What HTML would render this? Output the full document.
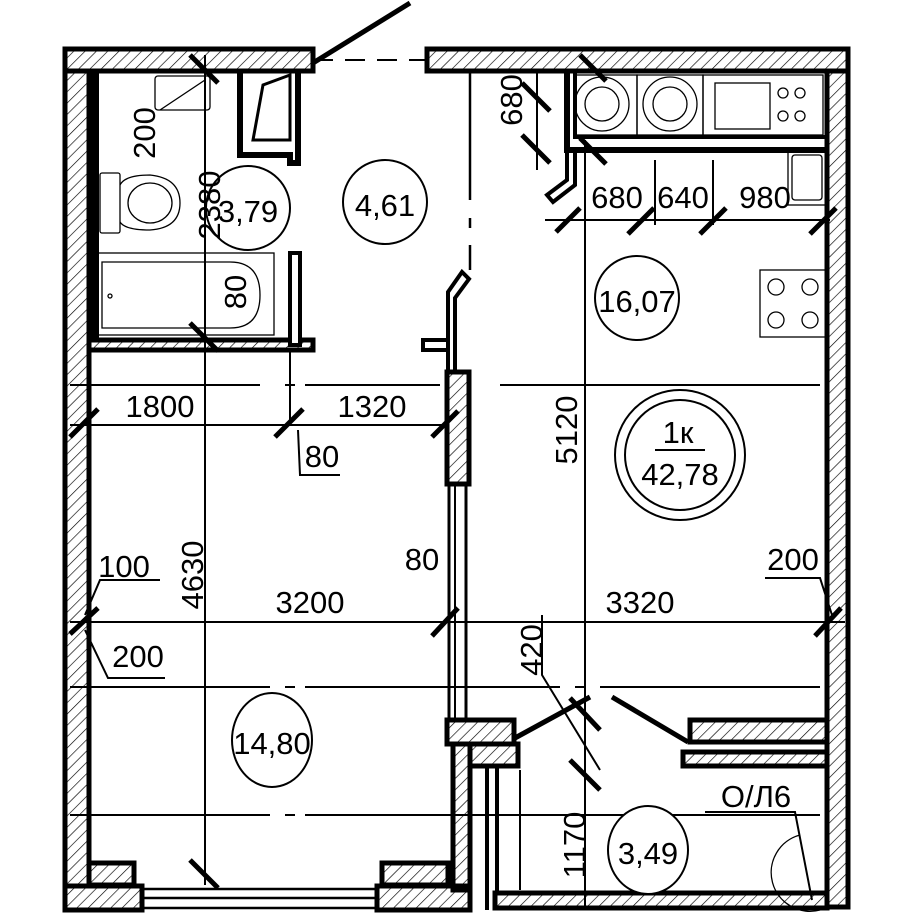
<!DOCTYPE html>
<html><head><meta charset="utf-8"><style>
html,body{margin:0;padding:0;background:#fff;}
svg{display:block}
text{font-family:"Liberation Sans Narrow","Liberation Sans",sans-serif;font-size:31px;fill:#000;text-anchor:middle}
</style></head><body>
<svg width="915" height="915" viewBox="0 0 915 915" xmlns="http://www.w3.org/2000/svg">
<defs>
<pattern id="h" width="8" height="8" patternUnits="userSpaceOnUse" patternTransform="rotate(45)">
<line x1="0" y1="0" x2="0" y2="8" stroke="#000" stroke-width="1.3"/>
</pattern>
</defs>
<g stroke="#000" stroke-width="5" fill="url(#h)">
<!-- top walls -->
<rect x="65" y="49" width="248" height="22"/>
<rect x="427" y="49" width="421" height="22"/>
<!-- left wall -->
<rect x="65" y="71" width="24" height="815"/>
<!-- right wall -->
<rect x="827" y="71" width="21" height="836"/>
<!-- bathroom bottom wall -->
<rect x="89" y="340" width="224" height="10"/>
<!-- living/kitchen partition -->
<rect x="447" y="372" width="22" height="112"/>
<!-- hallway walls -->
<rect x="447" y="720" width="67" height="24"/>
<rect x="690" y="720" width="137" height="22"/>
<rect x="683" y="752" width="144" height="14"/>
<rect x="470" y="744" width="48" height="22"/>
<rect x="453" y="744" width="17" height="146"/>
<!-- living bottom -->
<rect x="89" y="863" width="45" height="22"/>
<rect x="382" y="863" width="66" height="22"/>
<rect x="65" y="886" width="77" height="24"/>
<rect x="377" y="886" width="93" height="24"/>
<rect x="495" y="893" width="332" height="15"/>
</g>
<g stroke="#000" fill="none">
<rect x="92" y="71" width="6" height="270" fill="#000" stroke-width="2"/>
<!-- hallway inner wall -->
<path d="M487 768 V910 M497 768 V895" stroke-width="4"/>
<!-- window lines -->
<path d="M142 889 H377 M142 898 H377 M142 908 H377" stroke-width="2.5"/>
<!-- closet -->
<path d="M240 71 V155 H290 V163 H298 V71" stroke-width="6"/>
<path d="M253 140 L263 85 L290 75 V140 Z" stroke-width="3"/>
<!-- bathroom partition -->
<path d="M292 255 V345 M299 255 V345" stroke-width="4"/>
<rect x="290" y="253" width="10" height="92" stroke-width="4" fill="#fff"/>
<!-- partition upper angled -->
<path d="M448 370 V292 L462 272 L469 279 L455 298 V370" stroke-width="4"/>
<path d="M423 340 H448 V350 H423 Z" stroke-width="4"/>
<path d="M449 486 V720 M466 486 V720" stroke-width="3"/>
<path d="M455 486 V720" stroke-width="2"/>
<!-- kitchen niche -->
<path d="M567 71 V150 H827" stroke-width="6"/>
<path d="M575 71 V137 H827" stroke-width="4"/>
<path d="M567 150 V180 L547 195 L553 202 L575 185 V150" stroke-width="4"/>
<!-- door leafs -->
<path d="M313 63 L410 3" stroke-width="5"/>
<path d="M313 60 H425" stroke-width="2" stroke-dasharray="20 12"/>
<path d="M515 738 L590 697" stroke-width="5"/>
<path d="M612 697 L688 742" stroke-width="5"/>
</g>
<!-- fixtures thin -->
<g stroke="#000" fill="none" stroke-width="1.3">
<rect x="155" y="76" width="55" height="34" rx="3"/>
<path d="M160 110 L205 80"/>
<rect x="100" y="173" width="20" height="60" rx="2"/>
<path d="M120 185 Q125 175 150 175 Q180 178 180 203 Q180 228 150 230 Q125 230 120 222"/>
<ellipse cx="150" cy="203" rx="22" ry="20"/>
<rect x="98" y="253" width="176" height="82"/>
<path d="M102 262 H230 Q260 262 260 295 Q260 328 230 328 H102 Z"/>
<circle cx="110" cy="296" r="2"/>
<rect x="575" y="75" width="62" height="60"/><rect x="637" y="75" width="66" height="60"/><rect x="703" y="75" width="120" height="60"/>
<circle cx="602" cy="104" r="27"/><circle cx="602" cy="104" r="17"/>
<circle cx="670" cy="104" r="27"/><circle cx="670" cy="104" r="17"/>
<rect x="715" y="83" width="55" height="46"/>
<circle cx="783" cy="93" r="5"/><circle cx="800" cy="93" r="5"/><circle cx="783" cy="116" r="5"/><circle cx="800" cy="116" r="5"/>
<rect x="788" y="150" width="38" height="55"/><rect x="792" y="155" width="30" height="45" rx="3"/>
<rect x="760" y="270" width="66" height="67"/>
<circle cx="776" cy="287" r="8"/><circle cx="810" cy="287" r="8"/><circle cx="776" cy="320" r="8"/><circle cx="810" cy="320" r="8"/>
<path d="M800 835 A35 35 0 0 0 820 910" />
</g>
<!-- dimension lines -->
<g stroke="#000" fill="none" stroke-width="2">
<path d="M70 385 H260 M285 385 H295 M305 385 H440 M500 385 H820" />
<path d="M70 425 H445"/>
<path d="M70 622 H845"/>
<path d="M70 687 H270 M285 687 H295 M305 687 H560 M575 687 H585 M600 687 H820"/>
<path d="M70 815 H270 M285 815 H295 M305 815 H820"/>
<path d="M545 220 H830"/>
<path d="M205 55 V885"/>
<path d="M470 71 V200 M470 218 V228 M470 245 V270" stroke-width="2.5"/>
<path d="M585 140 V910"/>
<path d="M537 71 V170"/>
<path d="M290 350 V425 M298 430 L300 475 H340"/>
<path d="M655 160 V225 M713 160 V225"/>
<path d="M160 580 H100 L85 615 M85 630 L108 678 H165"/>
<path d="M765 578 H820 L832 615"/>
<path d="M542 615 V675 L600 770"/>
<path d="M705 812 H795 L812 900"/>
<path d="M520 770 V890"/>
</g>
<!-- ticks -->
<g stroke="#000" stroke-width="5">
<path d="M190 55 L218 83 M190 323 L218 351 M190 860 L218 888"/>
<path d="M522 83 L550 111 M522 135 L550 163 M580 55 L606 81 M580 138 L606 164"/>
<path d="M556 232 L580 208 M628 234 L654 208 M700 234 L726 208 M810 234 L836 208"/>
<path d="M70 437 L98 409 M275 437 L303 409 M432 437 L458 411"/>
<path d="M70 634 L98 608 M432 636 L458 608 M815 636 L841 608"/>
<path d="M570 698 L600 730 M570 760 L600 790"/>
</g>
<!-- room circles -->
<g stroke="#000" fill="#fff" stroke-width="2">
<circle cx="248" cy="208" r="42"/>
<circle cx="385" cy="202" r="42"/>
<circle cx="637" cy="298" r="42"/>
<circle cx="680" cy="455" r="65"/>
<ellipse cx="272" cy="740" rx="40" ry="47"/>
<ellipse cx="648" cy="850" rx="40" ry="44"/>
</g>
<circle cx="680" cy="455" r="55" stroke="#000" fill="none" stroke-width="2"/>
<path d="M655 450 H705" stroke="#000" stroke-width="2"/>
<text x="248" y="222" font-size="34">3,79</text>
<text x="385" y="216" font-size="34">4,61</text>
<text x="637" y="312" font-size="32">16,07</text>
<text x="678" y="443" font-size="32">1к</text>
<text x="680" y="485" font-size="34">42,78</text>
<text x="272" y="754" font-size="32">14,80</text>
<text x="648" y="864" font-size="32">3,49</text>
<!-- dims text -->
<text x="160" y="417">1800</text>
<text x="372" y="417">1320</text>
<text x="322" y="467">80</text>
<text x="310" y="613">3200</text>
<text x="640" y="613">3320</text>
<text x="124" y="577">100</text>
<text x="138" y="667">200</text>
<text x="422" y="570">80</text>
<text x="793" y="570">200</text>
<text x="756" y="807">О/Л6</text>
<text x="617" y="208">680</text>
<text x="683" y="208">640</text>
<text x="765" y="208">980</text>
<text transform="translate(155 133) rotate(-90)">200</text>
<text transform="translate(220 205) rotate(-90)">2380</text>
<text transform="translate(246 292) rotate(-90)">80</text>
<text transform="translate(522 100) rotate(-90)">680</text>
<text transform="translate(577 430) rotate(-90)">5120</text>
<text transform="translate(203 575) rotate(-90)">4630</text>
<text transform="translate(542 650) rotate(-90)">420</text>
<text transform="translate(585 845) rotate(-90)">1170</text>
</svg>
</body></html>
